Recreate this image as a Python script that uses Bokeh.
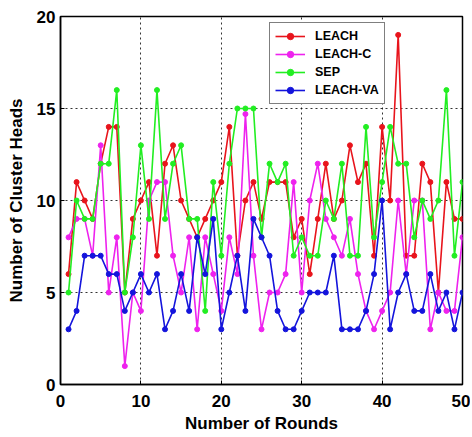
from bokeh.plotting import figure
from bokeh.models import ColumnDataSource, Legend, LegendItem, FixedTicker, Range1d
from bokeh.embed import file_html
from bokeh.resources import INLINE

rounds = list(range(1, 51))
leach = [6, 11, 10, 9, 12, 14, 14, 5, 9, 10, 11, 7, 12, 13, 10, 9, 8, 9, 10, 11,
         14, 7, 10, 11, 9, 11, 11, 11, 8, 9, 6, 9, 12, 9, 10, 13, 11, 12, 7, 14,
         10, 19, 7, 7, 12, 11, 5, 11, 9, 9]
leach_c = [8, 9, 9, 7, 13, 5, 8, 1, 5, 4, 10, 11, 11, 7, 5, 8, 3, 8, 6, 4,
           8, 6, 14.7, 7, 3, 5, 5, 6, 11, 5, 10, 12, 9, 8, 7, 9, 6, 4, 3, 4,
           5, 10, 6, 10, 10, 3, 5, 4, 4, 8]
sep = [5, 10, 9, 9, 12, 12, 16, 5, 8, 13, 9, 16, 9, 12, 13, 9, 9, 4, 11, 7,
       12, 15, 15, 15, 8, 12, 11, 12, 7, 8, 7, 7, 10, 9, 12, 7, 7, 14, 8, 11,
       14, 12, 12, 8, 10, 9, 10, 16, 7, 11]
leach_va = [3, 4, 7, 7, 7, 6, 6, 4, 5, 6, 5, 6, 3, 4, 6, 4, 8, 6, 9, 3,
            5, 7, 4, 9, 8, 7, 4, 3, 3, 4, 5, 5, 5, 7, 3, 3, 3, 4, 6, 10,
            3, 5, 6, 4, 4, 6, 4, 5, 3, 5]

series_names = ["LEACH", "LEACH-C", "SEP", "LEACH-VA"]
series_colors = ["#e8141c", "#ee22ee", "#22ee22", "#1414dc"]
x_ticks = [0, 10, 20, 30, 40, 50]
y_ticks = [0, 5, 10, 15, 20]

FONT = "Liberation Sans"

p = figure(width=470, height=435, output_backend="svg", toolbar_location=None,
           x_range=Range1d(0, 50), y_range=Range1d(0, 20),
           min_border_left=60, min_border_right=8, min_border_top=16, min_border_bottom=50)

items = []
for name, vals, col in zip(series_names, [leach, leach_c, sep, leach_va], series_colors):
    src = ColumnDataSource(dict(x=rounds, y=vals))
    r1 = p.line("x", "y", source=src, line_color=col, line_width=1.6)
    r2 = p.scatter("x", "y", source=src, size=5, fill_color=col, line_color=col)
    items.append(LegendItem(label=name, renderers=[r1, r2]))

legend = Legend(items=items, location=(209, 280))
legend.label_text_font = FONT
legend.label_text_font_style = "bold"
legend.label_text_font_size = "12.5px"
legend.label_text_color = "black"
legend.glyph_width = 30
legend.glyph_height = 16
legend.label_height = 16
legend.label_standoff = 10
legend.spacing = 2
legend.padding = 5
legend.margin = 0
legend.border_line_color = "black"
legend.border_line_width = 1
legend.background_fill_color = "white"
legend.background_fill_alpha = 1
p.add_layout(legend, "center")

p.outline_line_color = "black"
p.outline_line_width = 1.5

xt = FixedTicker(ticks=x_ticks)
yt = FixedTicker(ticks=y_ticks)
for ax, tk in ((p.xaxis, xt), (p.yaxis, yt)):
    ax.ticker = tk
    ax.major_tick_in = 4
    ax.major_tick_out = 0
    ax.minor_tick_line_color = None
    ax.axis_line_color = "black"
    ax.axis_line_width = 1.5
    ax.major_tick_line_color = "black"
    ax.major_label_text_font = FONT
    ax.major_label_text_font_style = "bold"
    ax.major_label_text_font_size = "17px"
    ax.major_label_text_color = "black"
    ax.axis_label_text_font = FONT
    ax.axis_label_text_font_style = "bold"
    ax.axis_label_text_font_size = "17px"
    ax.axis_label_text_color = "black"

p.xaxis.axis_label = "Number of Rounds"
p.yaxis.axis_label = "Number of Cluster Heads"
p.xaxis.major_label_standoff = 10
p.xaxis.axis_label_standoff = 4
p.yaxis.major_label_standoff = 5
p.yaxis.axis_label_standoff = 8

p.xgrid.ticker = xt
p.ygrid.ticker = yt
for g in (p.xgrid[0], p.ygrid[0]):
    g.grid_line_color = "black"
    g.grid_line_alpha = 0.8
    g.grid_line_dash = "2 3"
    g.grid_line_width = 1

open("out.html", "w").write(file_html(p, INLINE))
